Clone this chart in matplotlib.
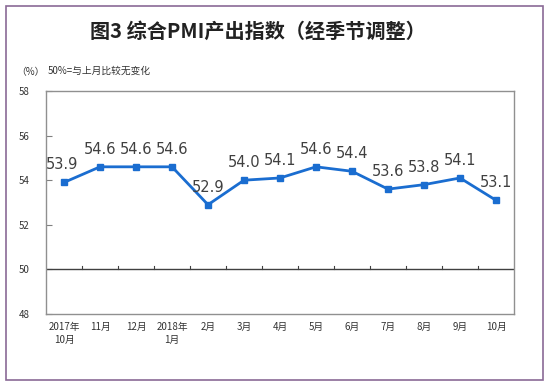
import matplotlib
matplotlib.use('Agg')
import matplotlib.pyplot as plt
from matplotlib.patches import Rectangle

plt.rcParams['font.family'] = ['Noto Sans CJK SC', 'DejaVu Sans']

# data
months = ['2017年\n10月', '11月', '12月', '2018年\n1月', '2月', '3月', '4月',
          '5月', '6月', '7月', '8月', '9月', '10月']
pmi = [53.9, 54.6, 54.6, 54.6, 52.9, 54.0, 54.1, 54.6, 54.4, 53.6, 53.8, 54.1, 53.1]
y_ticks = [48, 50, 52, 54, 56, 58]

W, H = 550, 386
fig = plt.figure(figsize=(W / 100, H / 100), dpi=100)
fig.patch.set_facecolor('white')

# outer frame
fig.patches.append(Rectangle((6 / W, 6 / H), 537 / W, 374 / H, transform=fig.transFigure,
                             fill=False, edgecolor='#8a6a96', linewidth=1.2))

ax = fig.add_axes([46 / W, 1 - 314 / H, 468 / W, 223 / H])
x = list(range(len(pmi)))
ax.plot(x, pmi, color='#1a6dd0', linewidth=2, marker='s', markersize=4)
ax.axhline(50, color='#404040', linewidth=1)

for i, v in enumerate(pmi):
    dx = -0.05 if i == 0 else 0
    ax.text(i + dx, v + 0.45, f'{v:.1f}', ha='center', va='bottom',
            fontsize=10.5, color='#404040', family='DejaVu Sans')

ax.set_xlim(-0.5, len(pmi) - 0.5)
ax.set_ylim(48, 58)
ax.set_yticks(y_ticks)
ax.set_yticklabels([str(t) for t in y_ticks], fontsize=7, color='#333333')
ax.tick_params(axis='y', direction='in', length=4, color='#808080', pad=12)

# category ticks sit on the 50 line
ax.set_xticks(x)
ax.set_xticklabels(months, fontsize=7, color='#333333', linespacing=1.3)
ax.tick_params(axis='x', length=0, pad=6)
for b in [i + 0.5 for i in x[:-1]]:
    ax.plot([b, b], [50, 50.15], color='#404040', linewidth=0.8)

for s in ax.spines.values():
    s.set_color('#909090')
    s.set_linewidth(1)

fig.text(258 / W, 1 - 31 / H, '图3 综合PMI产出指数（经季节调整）', ha='center', va='center',
         fontsize=14.5, fontweight='bold', color='#222222')
fig.text(16 / W, 1 - 72 / H, '（%）', ha='left', va='center', fontsize=7, color='#333333')
fig.text(48 / W, 1 - 71 / H, '50%=与上月比较无变化', ha='left', va='center', fontsize=7, color='#333333')

fig.savefig('out.png', dpi=100)
